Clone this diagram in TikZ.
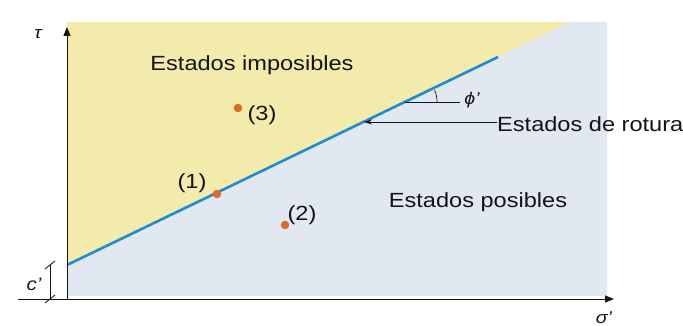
\documentclass[tikz,border=0pt]{standalone}
\usepackage{fontspec}
\setmainfont{Liberation Sans}[FakeStretch=1.15]
\usetikzlibrary{arrows.meta,calc}
\definecolor{yel}{RGB}{242,235,172}
\definecolor{lblue}{RGB}{226,232,242}
\definecolor{lineblue}{RGB}{30,140,205}
\definecolor{dotor}{RGB}{225,105,35}
\definecolor{ink}{RGB}{20,20,20}
\tikzset{
  lbl/.style={font=\fontsize{20.5}{22}\selectfont, text=ink, inner sep=0pt},
  pt/.style={circle, fill=dotor, minimum size=8.5pt, inner sep=0pt},
  axis/.style={draw=ink, line width=0.9pt, -{Triangle[length=9pt,width=7pt]}},
  thin/.style={draw=ink, line width=0.8pt},
}
\begin{document}
\begin{tikzpicture}[x=1pt,y=-1pt]
\useasboundingbox (0,0) rectangle (683,326);
\fill[white] (0,0) rectangle (683,326);
% regions
\fill[lblue] (67,265) -- (570,22) -- (607,22) -- (607,296) -- (67,296) -- cycle;
\fill[yel] (67,22) -- (570,22) -- (67,265) -- cycle;
% coordinates
\coordinate (l0) at (67,265);
\coordinate (l1) at (498,57);
\coordinate (yb) at (67,300);
\coordinate (yt) at (67,27);
\coordinate (xl) at (18,299);
\coordinate (xr) at (614,299);
% failure line
\draw[lineblue, line width=2.6pt] (l0) -- (l1);
% axes
\draw[axis] (yb) -- (yt);
\draw[axis] (xl) -- (xr);
\node[lbl, font=\fontsize{17}{18}\selectfont\itshape] (tau) at (38,34) {τ};
\node[lbl, font=\fontsize{17}{18}\selectfont\itshape] (sig) at (604,318) {σ'};
% c'
\coordinate (c0) at (50,299);
\coordinate (c1) at (50,265);
\draw[thin] (c0) -- (c1);
\draw[thin] ($(c0)+(-5,4)$) -- ($(c0)+(5,-4)$);
\draw[thin] ($(c1)+(-5,4)$) -- ($(c1)+(5,-4)$);
\node[lbl, font=\fontsize{18}{20}\selectfont\itshape] (cp) at (34,284) {c'};
% angle phi
\coordinate (pa) at (405,102);
\coordinate (pb) at (460,102);
\draw[thin, line width=0.7pt] (pa) -- (pb);
\draw[thin, line width=0.7pt] (437,102) arc[start angle=0, end angle=-22, radius=32];
\node[lbl, font=\fontsize{17}{18}\selectfont\itshape] (phi) at (472,100) {ϕ'};
% rotura arrow
\node[lbl, anchor=west] (rot) at (497,124) {Estados de rotura};
\coordinate (rt) at (364,122);
\draw[thin, -{Stealth[length=8pt,width=5pt]}] (rot.west |- rt) -- (rt);
% region labels
\node[lbl] (imp) at (252,65) {Estados imposibles};
\node[lbl] (pos) at (478,202) {Estados posibles};
% points
\node[pt] (p1) at (217,194) {};
\node[pt] (p2) at (285,225) {};
\node[pt] (p3) at (238,108) {};
\node[lbl] (t1) at (192,183) {(1)};
\node[lbl] (t2) at (302,215) {(2)};
\node[lbl] (t3) at (262,115) {(3)};
\end{tikzpicture}
\end{document}
